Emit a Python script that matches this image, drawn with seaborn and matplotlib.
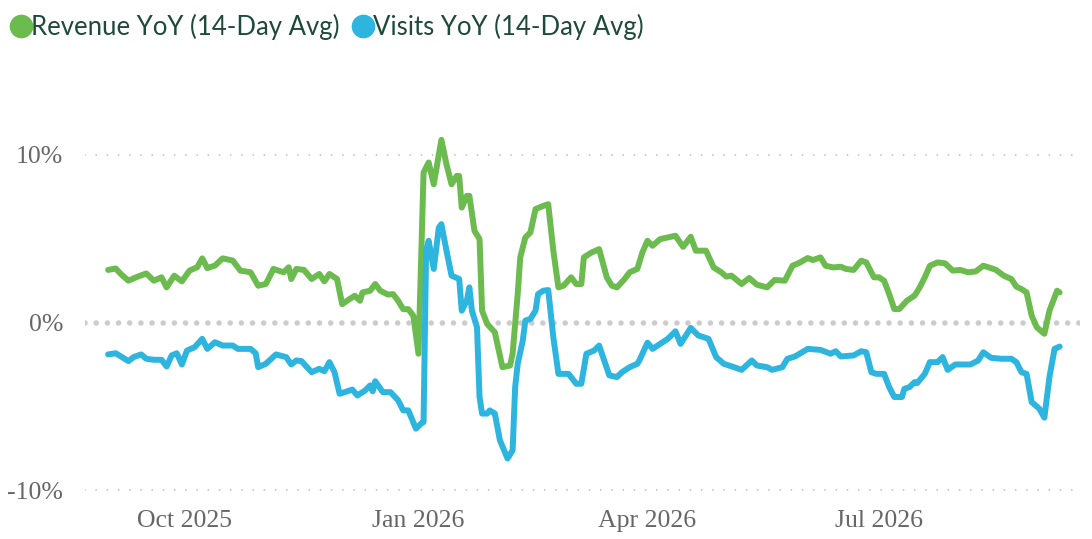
#!/usr/bin/env python
# coding: utf-8

# Revenue and visits YoY (14-day rolling averages), one line per series.

import numpy as np
import pandas as pd
import matplotlib

matplotlib.use("Agg")
import matplotlib.pyplot as plt
import seaborn as sns
from matplotlib.lines import Line2D

START = "2025-09-01"

# day offsets from START and values in percent
rev_days = [0, 3, 5, 8, 11, 15, 18, 21, 23, 26, 29, 32, 35, 37, 39, 42, 45, 49,
            52, 56, 59, 62, 65, 69, 71, 72, 74, 77, 80, 83, 85, 87, 90, 92, 95,
            97, 99, 100, 103, 105, 107, 110, 112, 114, 116, 118, 120, 122, 124,
            126, 128, 131, 133, 135, 137, 138, 139, 141, 142, 144, 146, 147, 149,
            152, 155, 158, 159, 161, 162, 164, 166, 168, 171, 173, 175, 177, 179,
            182, 184, 186, 187, 190, 193, 196, 198, 200, 203, 205, 208, 210, 212,
            214, 217, 220, 223, 226, 229, 231, 235, 238, 241, 243, 245, 249, 252,
            255, 259, 262, 266, 269, 272, 275, 277, 280, 282, 285, 288, 290, 293,
            296, 298, 301, 303, 305, 307, 309, 311, 314, 317, 319, 321, 323, 326,
            329, 332, 335, 338, 341, 344, 347, 349, 352, 355, 357, 359, 361, 363,
            365, 368, 370, 373, 374]
rev_vals = [3.14, 3.23, 2.9, 2.5, 2.7, 2.93, 2.5, 2.7, 2.1, 2.8, 2.46, 3.1, 3.3,
            3.83, 3.25, 3.4, 3.83, 3.7, 3.1, 3.0, 2.2, 2.3, 3.2, 3.0, 3.3, 2.6,
            3.2, 3.14, 2.6, 2.9, 2.46, 2.9, 2.6, 1.1, 1.41, 1.6, 1.3, 1.8, 1.9,
            2.3, 1.9, 1.67, 1.7, 1.3, 0.8, 0.8, 0.4, -1.86, 8.95, 9.55, 8.25,
            10.9, 9.45, 8.25, 8.75, 8.75, 6.86, 7.56, 7.56, 5.48, 4.98, 0.71,
            -0.08, -0.58, -2.66, -2.56, -1.86, 1.7, 3.89, 5.08, 5.38, 6.77, 6.96,
            7.06, 4.29, 2.1, 2.2, 2.7, 2.3, 2.3, 3.89, 4.18, 4.38, 2.7, 2.2, 2.1,
            2.6, 3.0, 3.2, 4.18, 4.88, 4.58, 4.98, 5.08, 5.18, 4.52, 5.12, 4.29,
            4.29, 3.29, 3.0, 2.74, 2.8, 2.3, 2.66, 2.26, 2.1, 2.54, 2.5, 3.39,
            3.59, 3.85, 3.73, 3.89, 3.39, 3.29, 3.33, 3.2, 3.14, 3.69, 3.59, 2.7,
            2.7, 2.5, 1.7, 0.81, 0.81, 1.31, 1.61, 2.1, 2.7, 3.39, 3.59, 3.53,
            3.1, 3.14, 3.0, 3.05, 3.39, 3.25, 3.14, 2.8, 2.6, 2.14, 2.0, 1.8,
            0.42, -0.28, -0.67, 0.71, 1.9, 1.8]

vis_days = [0, 3, 5, 8, 10, 13, 15, 18, 21, 23, 25, 27, 29, 31, 34, 37, 39, 42,
            45, 49, 51, 56, 58, 59, 62, 66, 70, 72, 74, 76, 80, 83, 85, 87, 89,
            91, 93, 96, 98, 101, 103, 104, 105, 108, 111, 114, 116, 118, 121,
            123, 124, 125, 126, 128, 130, 131, 133, 135, 138, 139, 141, 142, 143,
            145, 146, 147, 149, 150, 152, 154, 157, 159, 160, 161, 163, 164, 166,
            168, 169, 171, 173, 175, 177, 181, 184, 186, 188, 191, 193, 197, 200,
            202, 205, 208, 209, 212, 214, 217, 220, 223, 225, 229, 232, 236, 239,
            242, 246, 249, 253, 255, 259, 261, 265, 267, 270, 275, 280, 284, 286,
            288, 293, 296, 298, 300, 302, 305, 307, 309, 312, 313, 315, 317, 318,
            321, 323, 326, 328, 330, 333, 336, 339, 342, 344, 347, 351, 355, 357,
            359, 361, 363, 366, 368, 370, 372, 374]
vis_vals = [-1.9, -1.83, -2.02, -2.3, -2.06, -1.9, -2.16, -2.22, -2.22, -2.62,
            -1.96, -1.83, -2.5, -1.67, -1.47, -0.97, -1.57, -1.17, -1.37, -1.37,
            -1.57, -1.57, -1.83, -2.66, -2.46, -1.9, -2.06, -2.5, -2.26, -2.3,
            -2.96, -2.76, -2.9, -2.36, -2.96, -4.25, -4.15, -4.0, -4.35, -4.05,
            -3.75, -4.1, -3.5, -4.15, -4.15, -4.64, -5.24, -5.24, -6.33, -6.03,
            -5.93, 4.29, 4.88, 3.2, 5.67, 5.87, 4.29, 2.8, 2.6, 0.71, 1.31, 2.1,
            0.71, -0.28, -4.44, -5.43, -5.43, -5.24, -5.43, -7.02, -8.11, -7.62,
            -3.85, -2.46, -1.07, 0.12, 0.22, 0.71, 1.7, 1.9, 1.94, -0.87, -3.06,
            -3.06, -3.65, -3.65, -1.86, -1.67, -1.37, -3.15, -3.25, -2.96, -2.66,
            -2.46, -2.2, -1.2, -1.57, -1.27, -0.97, -0.52, -1.27, -0.32, -0.77,
            -0.97, -2.06, -2.46, -2.66, -2.82, -2.26, -2.56, -2.66, -2.82, -2.66,
            -2.16, -2.02, -1.57, -1.63, -1.86, -1.71, -2.02, -1.96, -1.71, -1.77,
            -2.96, -3.06, -3.06, -3.85, -4.44, -4.44, -3.95, -3.85, -3.55, -3.61,
            -3.06, -2.36, -2.36, -2.06, -2.82, -2.5, -2.5, -2.5, -2.26, -1.77,
            -2.1, -2.16, -2.16, -2.36, -2.96, -3.06, -4.74, -5.14, -5.67, -3.25,
            -1.57, -1.43]

series_names = ["Revenue YoY (14-Day Avg)", "Visits YoY (14-Day Avg)"]
series_colors = ["#6cbb4e", "#2db5e0"]

x_ticks = ["2025-10-01", "2026-01-01", "2026-04-01", "2026-07-01"]
x_tick_labels = ["Oct 2025", "Jan 2026", "Apr 2026", "Jul 2026"]
y_ticks = [-10, 0, 10]
y_tick_labels = ["-10%", "0%", "10%"]


def make_frame(days, vals, name):
    start = pd.Timestamp(START)
    return pd.DataFrame(
        {
            "date": [start + pd.Timedelta(days=int(d)) for d in days],
            "value": vals,
            "series": name,
        }
    )


if __name__ == "__main__":

    data = pd.concat(
        [
            make_frame(rev_days, rev_vals, series_names[0]),
            make_frame(vis_days, vis_vals, series_names[1]),
        ],
        ignore_index=True,
    )

    sns.set_style("white")
    fig = plt.figure(figsize=(10.92, 5.39), dpi=100)
    ax = fig.add_axes([0.078, 0.089, 0.911, 0.779])

    # grid lines: fine dots at +-10%, heavy dots on zero
    for y in [-10, 10]:
        ax.axhline(y, color="#bdbdbd", lw=1.3, linestyle=(0, (0.01, 6.2)),
                   dash_capstyle="round", zorder=0)
    ax.axhline(0, color="#cccccc", lw=4, linestyle=(0, (0.01, 2.0)),
               dash_capstyle="round", zorder=0)

    sns.lineplot(
        data=data,
        x="date",
        y="value",
        hue="series",
        palette=dict(zip(series_names, series_colors)),
        estimator=None,
        sort=False,
        linewidth=4.3,
        legend=False,
        ax=ax,
    )
    for line in ax.lines:
        line.set_solid_joinstyle("round")
        line.set_solid_capstyle("round")

    ax.set_xlim(pd.Timestamp("2025-08-23"), pd.Timestamp("2026-09-18"))
    ax.set_ylim(-10.05, 15)
    ax.set_xticks(pd.to_datetime(x_ticks))
    ax.set_xticklabels(x_tick_labels)
    ax.set_yticks(y_ticks)
    ax.set_yticklabels(y_tick_labels)
    ax.set_xlabel("")
    ax.set_ylabel("")
    for s in ax.spines.values():
        s.set_visible(False)
    ax.tick_params(length=0, labelsize=18.5, labelcolor="#666666")
    ax.tick_params(axis="x", pad=14)
    ax.tick_params(axis="y", pad=16)
    for lab in ax.get_xticklabels() + ax.get_yticklabels():
        lab.set_family(["Liberation Serif", "DejaVu Serif"])

    # legend
    handles = [
        Line2D([], [], linestyle="none", marker="o", markersize=16,
               markerfacecolor=c, markeredgecolor=c)
        for c in series_colors
    ]
    fig.legend(
        handles,
        series_names,
        loc="upper left",
        bbox_to_anchor=(-0.009, 1.018),
        ncol=2,
        frameon=False,
        handlelength=0.6,
        handletextpad=0.1,
        columnspacing=0.6,
        prop={"family": ["Lato", "DejaVu Sans"], "size": 18.5},
        labelcolor="#1f4a3a",
    )

    fig.savefig("out.png", dpi=100)
